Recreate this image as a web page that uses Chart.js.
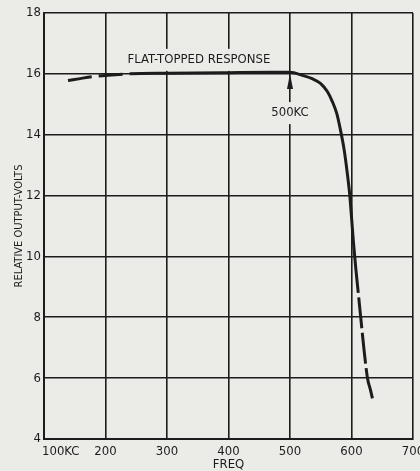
<!DOCTYPE html>
<html><head><meta charset="utf-8">
<script src="https://cdn.jsdelivr.net/npm/chart.js@4"></script>
<style>
html,body{margin:0;padding:0;background:#ebebe8;}
#wrap{width:420px;height:471px;position:relative;overflow:hidden;}
canvas{display:block;}
</style></head><body>
<div id="wrap"><canvas id="c" width="420" height="471"></canvas></div>
<script>
// ---- data ----
const freqKC      = [139, 163, 185, 210, 240, 300, 400, 470, 500, 520, 536, 550, 561, 569, 576, 582, 588, 593, 597, 600, 603, 607, 611, 615, 620, 626, 631, 635];
const outputVolts = [15.78, 15.86, 15.92, 15.96, 16.0, 16.02, 16.04, 16.05, 16.05, 15.95, 15.84, 15.68, 15.41, 15.08, 14.70, 14.16, 13.51, 12.76, 12.05, 11.3, 10.5, 9.6, 8.8, 8.0, 7.0, 6.0, 5.6, 5.25];
const xTicks      = [100, 200, 300, 400, 500, 600, 700];
const xTickLabels = ['100KC', '200', '300', '400', '500', '600', '700'];
const yTicks      = [4, 6, 8, 10, 12, 14, 16, 18];
const noteTexts   = ['FLAT-TOPPED RESPONSE', '500KC'];
const noteFreq    = [352, 500];
const noteVolts   = [16.46, 14.71];
const arrowFreq   = 500;
const arrowTipVolts  = 16.0;
const arrowBaseVolts = 15.5;
const dashedUntilFreq = 240;
const dashedFromFreq  = 611;
const xTitle = 'FREQ';
const yTitle = 'RELATIVE OUTPUT-VOLTS';

const FONT = '"Liberation Sans Narrow", "DejaVu Sans Condensed", "Liberation Sans", sans-serif';
const INK = '#1c1c1c';
const PAPER = '#ebebe8';

const points = freqKC.map((f, i) => ({x: f, y: outputVolts[i]}));

const notesPlugin = {
  id: 'notes',
  beforeDatasetsDraw(chart) {
    const {ctx, scales: {x, y}} = chart;
    ctx.save();
    ctx.font = '13px ' + FONT;
    ctx.textAlign = 'center';
    ctx.textBaseline = 'middle';
    noteTexts.forEach((t, i) => {
      const px = x.getPixelForValue(noteFreq[i]);
      const py = y.getPixelForValue(noteVolts[i]);
      const w = ctx.measureText(t).width;
      ctx.fillStyle = PAPER;
      ctx.fillRect(px - w / 2 - 2, py - 11, w + 4, 22);
      ctx.fillStyle = INK;
      ctx.fillText(t, px, py);
    });
    // arrow head pointing up at 500KC
    const ax = x.getPixelForValue(arrowFreq);
    const tip = y.getPixelForValue(arrowTipVolts);
    const base = y.getPixelForValue(arrowBaseVolts);
    ctx.fillStyle = INK;
    ctx.beginPath();
    ctx.moveTo(ax, tip);
    ctx.lineTo(ax - 3, base);
    ctx.lineTo(ax + 3, base);
    ctx.closePath();
    ctx.fill();
    // first x tick label, left-aligned like the reference
    ctx.textAlign = 'left';
    ctx.fillText(xTickLabels[0], x.getPixelForValue(xTicks[0]) - 2, x.top + 5 + 7.8);
    ctx.restore();
  }
};

new Chart(document.getElementById('c'), {
  type: 'line',
  data: {
    datasets: [{
      data: points,
      borderColor: INK,
      borderWidth: 3,
      pointRadius: 0,
      fill: false,
      cubicInterpolationMode: 'monotone',
      borderCapStyle: 'butt',
      segment: {
        borderDash: ctx => (ctx.p1.parsed.x <= dashedUntilFreq) ? [24, 7]
                         : (ctx.p0.parsed.x >= dashedFromFreq ? [31, 4.5] : undefined),
        borderDashOffset: ctx => (ctx.p0.parsed.x >= dashedFromFreq ? 31 : 0)
      }
    }]
  },
  options: {
    responsive: false,
    animation: false,
    devicePixelRatio: 1,
    layout: {padding: {top: 13, right: 7, left: 0, bottom: 0}},
    plugins: {legend: {display: false}, tooltip: {enabled: false}},
    scales: {
      x: {
        type: 'linear', min: 100, max: 700,
        afterBuildTicks: s => { s.ticks = xTicks.map(v => ({value: v})); },
        afterFit: s => { s.height = 32; s.paddingLeft = 0; s.paddingRight = 0; },
        grid: {color: INK, lineWidth: 1.6, drawTicks: false},
        border: {display: true, color: INK, width: 2},
        ticks: {
          color: INK, padding: 5, maxRotation: 0, autoSkip: false,
          font: {family: FONT, size: 13},
          callback: (v) => { const i = xTicks.indexOf(v); return i <= 0 ? '' : xTickLabels[i]; }
        },
        title: {display: true, text: xTitle, color: INK, font: {family: FONT, size: 13, lineHeight: 1}, padding: {top: 0, bottom: 0}}
      },
      y: {
        type: 'linear', min: 4, max: 18,
        afterBuildTicks: s => { s.ticks = yTicks.map(v => ({value: v})); },
        afterFit: s => { s.width = 44; s.paddingTop = 0; s.paddingBottom = 0; },
        grid: {color: INK, lineWidth: 1.6, drawTicks: false},
        border: {display: true, color: INK, width: 2},
        ticks: {color: INK, padding: 3, font: {family: FONT, size: 13}},
        title: {display: true, text: yTitle, color: INK, font: {family: '"DejaVu Sans Condensed", ' + FONT, size: 11, lineHeight: 1}, padding: {top: 13.5, bottom: 0}}
      }
    }
  },
  plugins: [notesPlugin]
});
</script>
</body></html>
